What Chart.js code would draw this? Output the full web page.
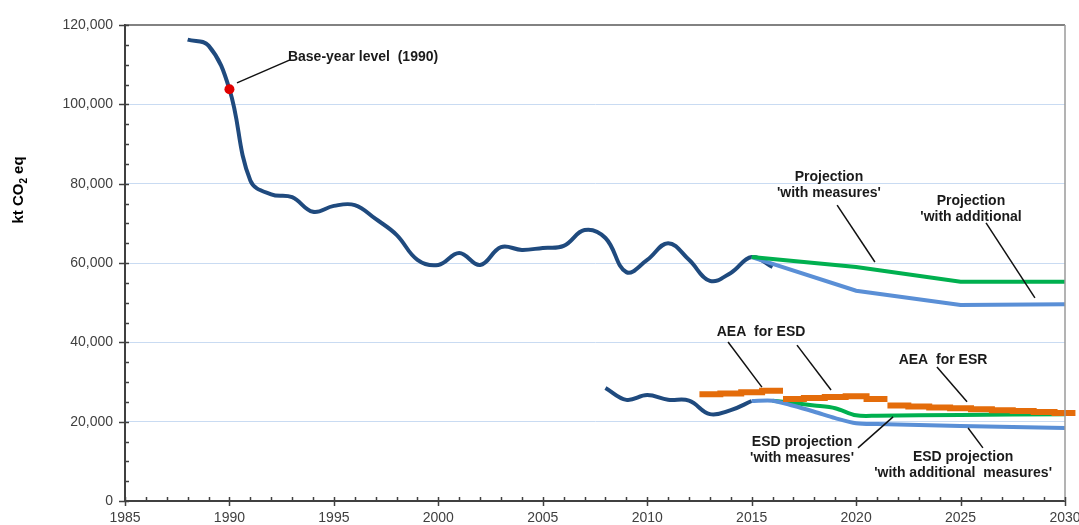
<!DOCTYPE html>
<html>
<head>
<meta charset="utf-8">
<script src="https://cdn.jsdelivr.net/npm/chart.js@4/dist/chart.umd.min.js"></script>
<style>
  html, body { margin: 0; padding: 0; background: #fff; }
  #wrap { width: 1079px; height: 525px; position: relative; }
</style>
</head>
<body>
<div id="wrap"><canvas id="chart"></canvas></div>
<script>
// Emissions, kt CO2 eq
const histYears = [1988, 1989, 1990, 1991, 1992, 1993, 1994, 1995, 1996, 1997, 1998, 1999, 2000, 2001, 2002,
  2003, 2004, 2005, 2006, 2007, 2008, 2009, 2010, 2011, 2012, 2013, 2014, 2015, 2016];
const histValues = [116300, 114800, 103800, 80800, 77300, 76600, 72900, 74400, 74600, 71100, 67100, 60800, 59500, 62500, 59500,
  64000, 63300, 63800, 64300, 68300, 66300, 57700, 60800, 65000, 60800, 55500, 57500, 61500, 59000];

const projYears = [2015, 2020, 2025, 2030];
const projWM = [61500, 59000, 55300, 55300];
const projWAM = [61500, 53000, 49400, 49600];

const esdYears = [2008, 2009, 2010, 2011, 2012, 2013, 2014, 2015];
const esdValues = [28500, 25500, 26700, 25500, 25300, 21900, 22900, 25200];

const esdWamYears = [2015, 2016, 2017, 2018, 2019, 2020, 2021, 2025, 2030];
const esdWamValues = [25200, 25300, 24000, 22500, 20900, 19600, 19400, 18900, 18400];
const esdWmYears = [2016, 2017, 2018, 2019, 2020, 2021, 2025, 2030];
const esdWmValues = [25300, 24700, 24100, 23400, 21600, 21500, 21700, 21900];

// annual emission allocations (one step per year)
const aeaEsd1Years = [2013, 2014, 2015, 2016];
const aeaEsd1Values = [26900, 27100, 27400, 27800];
const aeaEsd2Years = [2017, 2018, 2019, 2020, 2021];
const aeaEsd2Values = [25700, 25950, 26200, 26400, 25700];
const aeaEsrYears = [2022, 2023, 2024, 2025, 2026, 2027, 2028, 2029, 2030];
const aeaEsrValues = [24100, 23850, 23600, 23400, 23150, 22900, 22700, 22450, 22200];

const baseYear = 1990;
const baseValue = 103800;

const yTicks = [0, 20000, 40000, 60000, 80000, 100000, 120000];

function pts(xs, ys) {
  return xs.map((x, i) => ({ x: x, y: ys[i] }));
}
// each allocation is a flat step from half a year before to half a year after
function steps(xs, ys) {
  const out = xs.map((x, i) => ({ x: x - 0.5, y: ys[i] }));
  out.push({ x: xs[xs.length - 1] + 0.5, y: ys[ys.length - 1] });
  return out;
}

const DARK = "#1f4a7e";
const LIGHT = "#5a8fd6";
const GREEN = "#00b04f";
const ORANGE = "#e46c0a";

const labels = [
  { text: ["Base-year level  (1990)"], x: 1992.8, y: 111900, align: "left", leaders: [[1990.36, 105400, 1992.9, 111200]] },
  { text: ["Projection", "'with measures'"], x: 2018.7, y: 81700, leaders: [[2019.09, 74600, 2020.9, 60250]] },
  { text: ["Projection", "'with additional"], x: 2025.5, y: 75600, leaders: [[2026.22, 70100, 2028.56, 51200]] },
  { text: ["AEA  for ESD"], x: 2015.45, y: 42600, leaders: [[2013.87, 40100, 2015.49, 28700], [2017.17, 39300, 2018.8, 28000]] },
  { text: ["AEA  for ESR"], x: 2024.16, y: 35550, leaders: [[2023.87, 33800, 2025.31, 25000]] },
  { text: ["ESD projection", "'with measures'"], x: 2017.41, y: 14900, leaders: [[2020.09, 13400, 2021.77, 21200]] },
  { text: ["ESD projection", "'with additional  measures'"], x: 2025.12, y: 11100, leaders: [[2026.07, 13400, 2025.36, 18400]] }
];

const decor = {
  id: "decor",
  afterDatasetsDraw(chart) {
    const ctx = chart.ctx;
    const xs = chart.scales.x, ys = chart.scales.y;
    const a = chart.chartArea;
    ctx.save();
    // top and right frame
    ctx.lineWidth = 1.5;
    ctx.strokeStyle = "#595959";
    ctx.beginPath();
    ctx.moveTo(a.left, a.top);
    ctx.lineTo(a.right, a.top);
    ctx.stroke();
    ctx.strokeStyle = "#9a9a9a";
    ctx.beginPath();
    ctx.moveTo(a.right, a.top);
    ctx.lineTo(a.right, a.bottom);
    ctx.stroke();

    // ticks: major cross, minor inside
    ctx.strokeStyle = "#404040";
    ctx.lineWidth = 1.5;
    ctx.beginPath();
    for (let v = 0; v <= 120000; v += 5000) {
      const py = Math.round(ys.getPixelForValue(v)) + 0.5;
      const major = v % 20000 === 0;
      ctx.moveTo(a.left - (major ? 6 : 0), py);
      ctx.lineTo(a.left + 4, py);
    }
    for (let yr = 1985; yr <= 2030; yr++) {
      const px = Math.round(xs.getPixelForValue(yr)) + 0.5;
      const major = yr % 5 === 0;
      ctx.moveTo(px, a.bottom - 4);
      ctx.lineTo(px, a.bottom + (major ? 5 : 0));
    }
    ctx.stroke();

    // labels with leader lines
    ctx.strokeStyle = "#111";
    ctx.lineWidth = 1.5;
    labels.forEach(l => {
      l.leaders.forEach(s => {
        ctx.beginPath();
        ctx.moveTo(xs.getPixelForValue(s[0]), ys.getPixelForValue(s[1]));
        ctx.lineTo(xs.getPixelForValue(s[2]), ys.getPixelForValue(s[3]));
        ctx.stroke();
      });
      ctx.fillStyle = "#1a1a1a";
      ctx.font = "bold 14px 'Liberation Sans', Arial, sans-serif";
      ctx.textAlign = l.align || "center";
      ctx.textBaseline = "middle";
      const px = xs.getPixelForValue(l.x);
      const py = ys.getPixelForValue(l.y);
      l.text.forEach((t, i) => ctx.fillText(t, px, py + i * 16));
    });

    // axis title with subscript
    ctx.translate(19, 190);
    ctx.rotate(-Math.PI / 2);
    ctx.fillStyle = "#000";
    ctx.textBaseline = "middle";
    ctx.textAlign = "left";
    const big = "bold 15px 'Liberation Sans', Arial, sans-serif";
    const small = "bold 10px 'Liberation Sans', Arial, sans-serif";
    ctx.font = big;
    const w1 = ctx.measureText("kt CO").width;
    ctx.font = small;
    const w2 = ctx.measureText("2").width;
    ctx.font = big;
    const w3 = ctx.measureText(" eq").width;
    let x0 = -(w1 + w2 + w3) / 2;
    ctx.fillText("kt CO", x0, 0);
    ctx.font = small;
    ctx.fillText("2", x0 + w1, 5);
    ctx.font = big;
    ctx.fillText(" eq", x0 + w1 + w2, 0);
    ctx.restore();
  }
};

const config = {
  type: "line",
  data: {
    datasets: [
      {
        label: "Base year",
        data: [{ x: baseYear, y: baseValue }],
        showLine: false,
        pointRadius: 5,
        pointBackgroundColor: "#e00000",
        pointBorderWidth: 0,
        order: 0
      },
      {
        label: "AEA ESD 1",
        data: steps(aeaEsd1Years, aeaEsd1Values),
        stepped: true,
        borderColor: ORANGE,
        borderWidth: 6,
        pointRadius: 0,
        order: 1
      },
      {
        label: "AEA ESD 2",
        data: steps(aeaEsd2Years, aeaEsd2Values),
        stepped: true,
        borderColor: ORANGE,
        borderWidth: 6,
        pointRadius: 0,
        order: 1
      },
      {
        label: "AEA ESR",
        data: steps(aeaEsrYears, aeaEsrValues),
        stepped: true,
        borderColor: ORANGE,
        borderWidth: 6,
        pointRadius: 0,
        clip: false,
        order: 1
      },
      {
        label: "ESD WM",
        data: pts(esdWmYears, esdWmValues),
        borderColor: GREEN,
        borderWidth: 4,
        tension: 0.3,
        pointRadius: 0,
        order: 3
      },
      {
        label: "ESD WAM",
        data: pts(esdWamYears, esdWamValues),
        borderColor: LIGHT,
        borderWidth: 4,
        tension: 0.3,
        pointRadius: 0,
        order: 2
      },
      {
        label: "ESD",
        data: pts(esdYears, esdValues),
        borderColor: DARK,
        borderWidth: 4,
        tension: 0.4,
        pointRadius: 0,
        order: 4
      },
      {
        label: "Projection WM",
        data: pts(projYears, projWM),
        borderColor: GREEN,
        borderWidth: 4,
        pointRadius: 0,
        order: 2
      },
      {
        label: "Projection WAM",
        data: pts(projYears, projWAM),
        borderColor: LIGHT,
        borderWidth: 4,
        pointRadius: 0,
        order: 2
      },
      {
        label: "Total",
        data: pts(histYears, histValues),
        borderColor: DARK,
        borderWidth: 4,
        tension: 0.4,
        pointRadius: 0,
        order: 5
      }
    ]
  },
  options: {
    responsive: true,
    maintainAspectRatio: false,
    animation: false,
    layout: { padding: { top: 25, right: 14, left: 0, bottom: 0 } },
    plugins: {
      legend: { display: false },
      tooltip: { enabled: false }
    },
    scales: {
      x: {
        type: "linear",
        min: 1985,
        max: 2030,
        afterFit(scale) {
          scale.height = 24;
          scale.paddingLeft = 0;
          scale.paddingRight = 0;
        },
        ticks: {
          stepSize: 5,
          padding: 9,
          color: "#404040",
          font: { family: "'Liberation Sans', Arial, sans-serif", size: 14 },
          callback: v => String(v),
          maxRotation: 0
        },
        grid: { display: false, drawTicks: false },
        border: { display: true, color: "#404040", width: 2 }
      },
      y: {
        min: 0,
        max: 120000,
        afterFit(scale) {
          scale.width = 125;
          scale.paddingTop = 0;
          scale.paddingBottom = 0;
        },
        afterBuildTicks(scale) {
          scale.ticks = yTicks.map(v => ({ value: v }));
        },
        ticks: {
          padding: 12,
          color: "#404040",
          font: { family: "'Liberation Sans', Arial, sans-serif", size: 14 },
          callback: v => v.toLocaleString("en-US")
        },
        grid: {
          drawTicks: false,
          lineWidth: 1,
          color: c => (c.tick.value === 0 || c.tick.value === 120000) ? "rgba(0,0,0,0)" : "#c9dbf2"
        },
        border: { display: true, color: "#404040", width: 2 }
      }
    }
  },
  plugins: [decor]
};

new Chart(document.getElementById("chart"), config);
</script>
</body>
</html>
